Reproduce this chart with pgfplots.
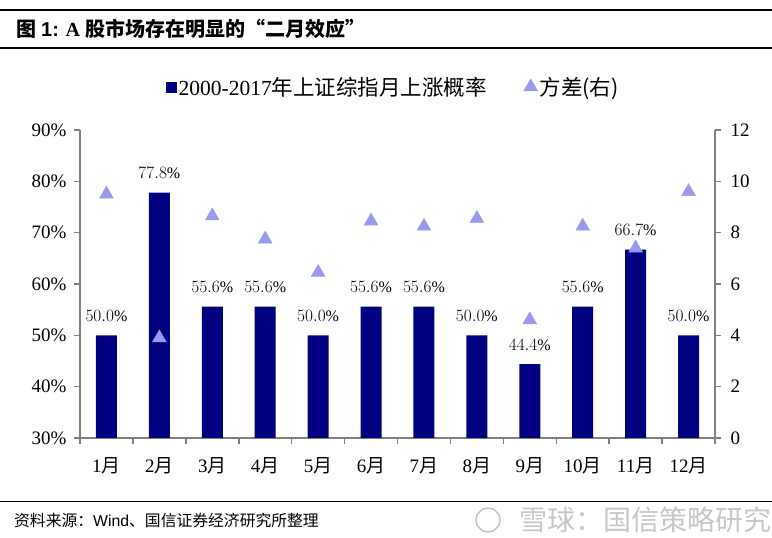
\documentclass[border=0pt]{standalone}
\usepackage{pgfplots}
\pgfplotsset{compat=1.18}
\usepackage{fontspec}
\setmainfont{Liberation Serif}
\newfontfamily\cjk{Noto Sans CJK SC}
\newfontfamily\arial{Liberation Sans}
\definecolor{barblue}{RGB}{0,0,128}
\definecolor{tri}{RGB}{153,153,238}
\definecolor{axgray}{RGB}{128,128,128}

\begin{document}
\begin{tikzpicture}[x=1pt,y=1pt]
\useasboundingbox (0,0) rectangle (772,538);
% title block
\draw[line width=1.2pt] (0,528) -- (772,528);
\draw[line width=1.2pt] (0,490) -- (772,490);
\node[anchor=west, inner sep=0] at (16,509) {\fontsize{20}{22}\selectfont\bfseries{\cjk 图} {\arial 1:} A {\cjk 股市场存在明显的“二月效应”}};
% source + watermark
\draw[line width=1pt] (0,36) -- (772,36);
\node[anchor=west, inner sep=0] at (14,18) {\fontsize{15.8}{17}\selectfont{\cjk 资料来源：}{\arial Wind}{\cjk 、国信证券经济研究所整理}};
\draw[gray!45, line width=1.5pt] (488,18) circle (12);
\node[anchor=east, inner sep=0, text=gray!45] at (772,18) {\cjk\fontsize{28}{30}\selectfont 雪球：国信策略研究};

\begin{axis}[
  at={(80pt,100pt)}, anchor=south west,
  scale only axis, width=635pt, height=308pt,
  xmin=0.5, xmax=12.5, ymin=30, ymax=90,
  axis x line*=bottom, axis y line*=left,
  axis line style={axgray, line width=1.5pt, -},
  tick style={axgray, line width=1.5pt},
  major tick length=6pt, tick align=outside,
  xtick={0.5,1.5,...,12.5}, x tick label as interval,
  xticklabels={{1\cjk 月},{2\cjk 月},{3\cjk 月},{4\cjk 月},{5\cjk 月},{6\cjk 月},{7\cjk 月},{8\cjk 月},{9\cjk 月},{10\cjk 月},{11\cjk 月},{12\cjk 月}},
  ytick={30,40,...,90},
  yticklabels={30\%,40\%,50\%,60\%,70\%,80\%,90\%},
  tick label style={font=\fontsize{19}{21}\selectfont},
  xticklabel style={yshift=-10pt},
  yticklabel style={xshift=-4pt},
]
\addplot[ybar, bar width=21pt, fill=barblue, draw=none,
  nodes near coords={\pgfmathprintnumber[fixed,fixed zerofill,precision=1]{\pgfplotspointmeta}\%},
  nodes near coords style={font=\fontsize{16}{18}\selectfont, anchor=base, yshift=14pt, text=black}]
coordinates {(1,50.0)(2,77.8)(3,55.6)(4,55.6)(5,50.0)(6,55.6)(7,55.6)(8,50.0)(9,44.4)(10,55.6)(11,66.7)(12,50.0)};
\end{axis}

\begin{axis}[
  at={(80pt,100pt)}, anchor=south west,
  scale only axis, width=635pt, height=308pt,
  xmin=0.5, xmax=12.5, ymin=0, ymax=12,
  axis x line=none, axis y line*=right,
  axis line style={axgray, line width=1.5pt, -},
  tick style={axgray, line width=1.5pt},
  major tick length=6pt, tick align=outside,
  ytick={0,2,...,12},
  /pgf/number format/assume math mode=true,
  tick label style={font=\fontsize{19}{21}\selectfont},
  yticklabel style={xshift=6pt},
  legend columns=2,
  legend style={draw=none, fill=none, at={(0.494,1.14)}, anchor=center,
    font=\fontsize{21.5}{23}\selectfont,
    /tikz/every even column/.append style={column sep=35pt}},
]
\addlegendimage{only marks, mark=square*, mark size=5pt, color=barblue}
\addlegendentry{2000-2017{\cjk 年上证综指月上涨概率}}
\addplot[only marks, mark=triangle*, mark size=8pt, color=tri]
coordinates {(1,9.5)(2,3.9)(3,8.65)(4,7.75)(5,6.45)(6,8.45)(7,8.25)(8,8.55)(9,4.6)(10,8.25)(11,7.4)(12,9.6)};
\addlegendentry{\cjk 方差(右)}
\end{axis}
\end{tikzpicture}
\end{document}
